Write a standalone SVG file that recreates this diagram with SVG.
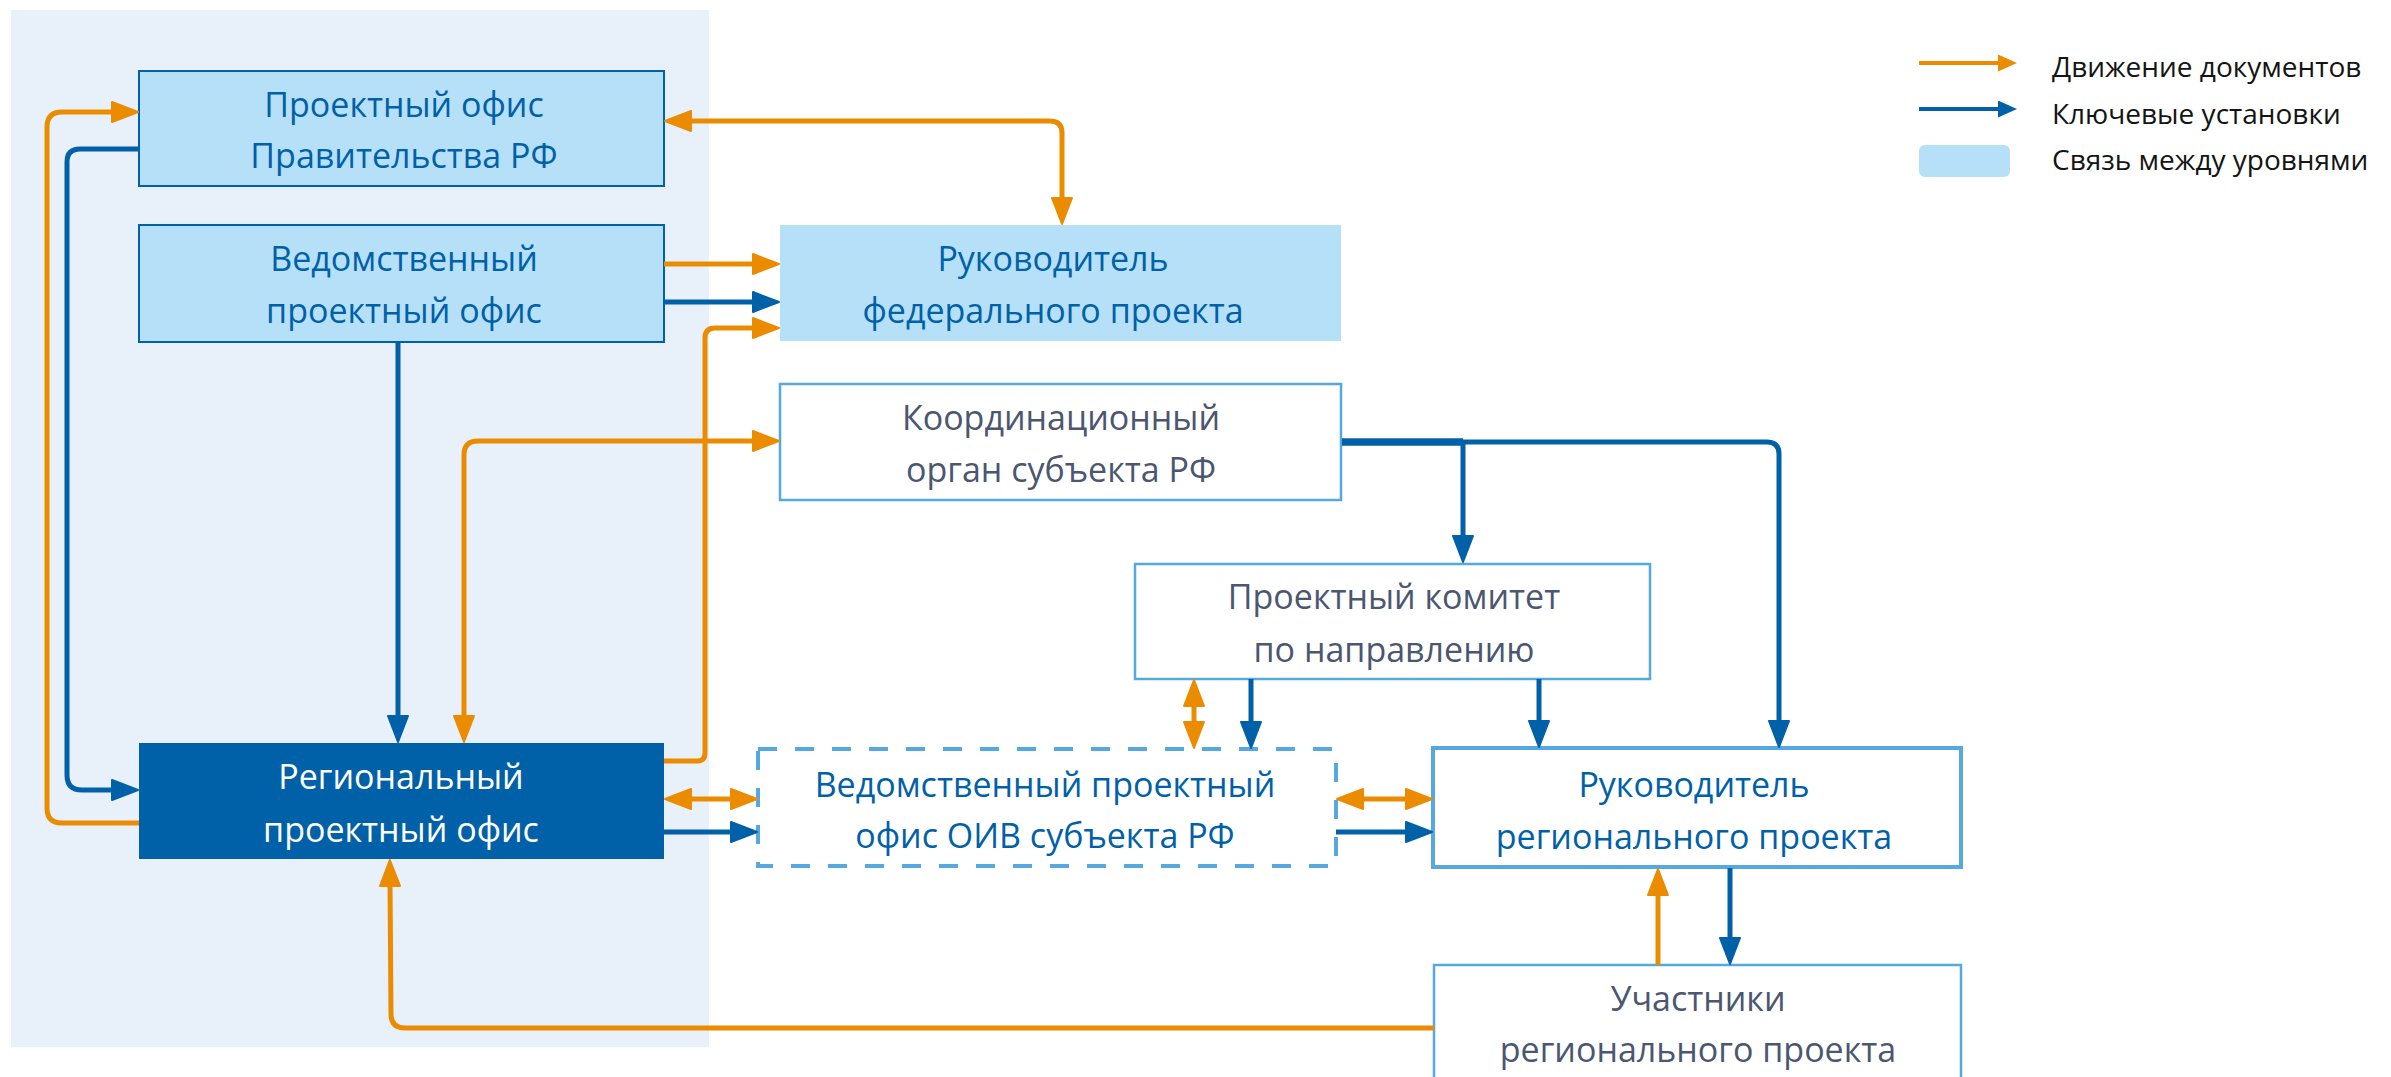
<svg xmlns="http://www.w3.org/2000/svg" width="2391" height="1077" viewBox="0 0 2391 1077">
<style>
.t{font-family:"Open Sans","Noto Sans","Liberation Sans",sans-serif;font-size:34px;text-anchor:middle}
.tb{fill:#0060A8}
.tg{fill:#4B5670}
.tw{fill:#FFFFFF}
.lg{font-family:"Open Sans","Noto Sans","Liberation Sans",sans-serif;font-size:28px;fill:#141414}
.o{fill:none;stroke:#EB8C00;stroke-width:5;stroke-linejoin:round}
.b{fill:none;stroke:#0060A8;stroke-width:5;stroke-linejoin:round}
.fed{fill:#B5E0F8;stroke:#0060A8;stroke-width:2}
.reg{fill:#FFFFFF;stroke:#55A8E0;stroke-width:2.5}
</style>
<defs>
<marker id="ao" viewBox="0 0 28 22" refX="4" refY="11" markerWidth="28" markerHeight="22" markerUnits="userSpaceOnUse" orient="auto-start-reverse"><path d="M1,1 L27,11 L1,21 z" fill="#EB8C00" stroke="#EB8C00" stroke-width="2" stroke-linejoin="round"/></marker>
<marker id="ab" viewBox="0 0 28 22" refX="4" refY="11" markerWidth="28" markerHeight="22" markerUnits="userSpaceOnUse" orient="auto-start-reverse"><path d="M1,1 L27,11 L1,21 z" fill="#0060A8" stroke="#0060A8" stroke-width="2" stroke-linejoin="round"/></marker>
<marker id="lo" viewBox="0 0 19 17" refX="3" refY="8.5" markerWidth="19" markerHeight="17" markerUnits="userSpaceOnUse" orient="auto"><path d="M0,0 L19,8.5 L0,17 z" fill="#EB8C00"/></marker>
<marker id="lb" viewBox="0 0 19 17" refX="3" refY="8.5" markerWidth="19" markerHeight="17" markerUnits="userSpaceOnUse" orient="auto"><path d="M0,0 L19,8.5 L0,17 z" fill="#0060A8"/></marker>
</defs>
<rect x="0" y="0" width="2391" height="1077" fill="#FFFFFF"/>
<rect id="level-panel" x="11" y="10" width="698" height="1037" fill="#E8F0FA"/>

<g id="n-gov">
<rect class="fed" x="139" y="71" width="525" height="115"/>
<text class="t tb" x="404" y="117">Проектный офис</text>
<text class="t tb" x="404" y="168">Правительства РФ</text>
</g>
<g id="n-dept">
<rect class="fed" x="139" y="225" width="525" height="117"/>
<text class="t tb" x="404" y="271">Ведомственный</text>
<text class="t tb" x="404" y="323">проектный офис</text>
</g>
<g id="n-fedlead">
<rect x="780" y="225" width="561" height="116" fill="#B5E0F8"/>
<text class="t tb" x="1053" y="271">Руководитель</text>
<text class="t tb" x="1053" y="323">федерального проекта</text>
</g>
<g id="n-coord">
<rect class="reg" x="780" y="384" width="561" height="116"/>
<text class="t tg" x="1061" y="430">Координационный</text>
<text class="t tg" x="1061" y="482">орган субъекта РФ</text>
</g>
<g id="n-committee">
<rect class="reg" x="1135" y="564" width="515" height="115"/>
<text class="t tg" x="1394" y="609">Проектный комитет</text>
<text class="t tg" x="1394" y="662">по направлению</text>
</g>
<g id="n-regoffice">
<rect x="139" y="743" width="525" height="116" fill="#0060A8"/>
<text class="t tw" x="401" y="789">Региональный</text>
<text class="t tw" x="401" y="842">проектный офис</text>
</g>
<g id="n-oiv">
<rect x="758" y="749" width="578" height="117" fill="#FFFFFF" stroke="#55A8E0" stroke-width="4" stroke-dasharray="19 18"/>
<text class="t tb" x="1045" y="797">Ведомственный проектный</text>
<text class="t tb" x="1045" y="848">офис ОИВ субъекта РФ</text>
</g>
<g id="n-reglead">
<rect x="1433" y="748" width="528" height="119" fill="#FFFFFF" stroke="#55A8E0" stroke-width="4"/>
<text class="t tb" x="1694" y="797">Руководитель</text>
<text class="t tb" x="1694" y="849">регионального проекта</text>
</g>
<g id="n-participants">
<rect class="reg" x="1434" y="965" width="527" height="130"/>
<text class="t tg" x="1698" y="1011">Участники</text>
<text class="t tg" x="1698" y="1062">регионального проекта</text>
</g>

<g id="connectors">
<path class="o" d="M139,823 L62,823 Q47,823 47,808 L47,127 Q47,112 62,112 L115,112" marker-end="url(#ao)"/>
<path class="b" d="M139,149 L80,149 Q67,149 67,162 L67,775 Q67,790 82,790 L115,790" marker-end="url(#ab)"/>
<path class="o" d="M688,121 L1050,121 Q1062,121 1062,133 L1062,201" marker-start="url(#ao)" marker-end="url(#ao)"/>
<path class="o" d="M664,264 L756,264" marker-end="url(#ao)"/>
<path class="b" d="M664,302 L756,302" marker-end="url(#ab)"/>
<path class="o" d="M664,761 L697,761 Q705,761 705,753 L705,338 Q705,328 715,328 L756,328" marker-end="url(#ao)"/>
<path class="b" d="M398,342 L398,719" marker-end="url(#ab)"/>
<path class="o" d="M756,441 L478,441 Q464,441 464,455 L464,719" marker-start="url(#ao)" marker-end="url(#ao)"/>
<path class="b" d="M1342,442 L1767,442 Q1779,442 1779,454 L1779,724" marker-end="url(#ab)"/>
<path class="b" d="M1342,442 L1463,442" style="stroke-width:7.5"/>
<path class="b" d="M1463,442 L1463,539" marker-end="url(#ab)"/>
<path class="b" d="M1539,679 L1539,724" marker-end="url(#ab)"/>
<path class="o" d="M1194,703 L1194,725" marker-start="url(#ao)" marker-end="url(#ao)"/>
<path class="b" d="M1251,679 L1251,725" marker-end="url(#ab)"/>
<path class="o" d="M688,799 L734,799" marker-start="url(#ao)" marker-end="url(#ao)"/>
<path class="b" d="M664,832 L734,832" marker-end="url(#ab)"/>
<path class="o" d="M1360,799 L1409,799" marker-start="url(#ao)" marker-end="url(#ao)"/>
<path class="b" d="M1336,832 L1409,832" marker-end="url(#ab)"/>
<path class="o" d="M1658,965 L1658,892" marker-end="url(#ao)"/>
<path class="b" d="M1730,868 L1730,941" marker-end="url(#ab)"/>
<path class="o" d="M1434,1028 L405,1028 Q391,1028 391,1014 L390,883" marker-end="url(#ao)"/>
</g>

<g id="legend">
<path d="M1919,63 L2001,63" fill="none" stroke="#EB8C00" stroke-width="4" marker-end="url(#lo)"/>
<path d="M1919,109 L2001,109" fill="none" stroke="#0060A8" stroke-width="4" marker-end="url(#lb)"/>
<rect x="1919" y="145" width="91" height="32" rx="6" fill="#B5E0F8"/>
<text class="lg" x="2052" y="77">Движение документов</text>
<text class="lg" x="2052" y="124">Ключевые установки</text>
<text class="lg" x="2052" y="170">Связь между уровнями</text>
</g>
</svg>
